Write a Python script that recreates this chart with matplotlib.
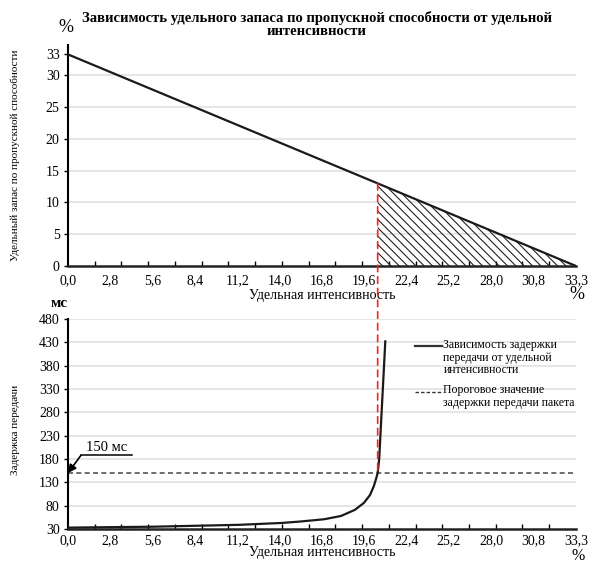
import numpy as np
import matplotlib
matplotlib.use("Agg")
import matplotlib.pyplot as plt
from matplotlib.patches import ConnectionPatch
from matplotlib.lines import Line2D

plt.rcParams["font.family"] = ["Liberation Serif", "DejaVu Serif"]
plt.rcParams["hatch.linewidth"] = 0.8

# Axis labels and ticks
x_max = 33.3
x_tick_labels = ["0,0", "2,8", "5,6", "8,4", "11,2", "14,0", "16,8",
                 "19,6", "22,4", "25,2", "28,0", "30,8", "33,3"]
reserve_ticks = [0, 5, 10, 15, 20, 25, 30, 33.3]
reserve_tick_labels = ["0", "5", "10", "15", "20", "25", "30", "33"]
delay_ticks = [30, 80, 130, 180, 230, 280, 330, 380, 430, 480]

# Specific throughput reserve vs specific intensity, %
reserve_x = [0.0, 33.3]
reserve_y = [33.3, 0.0]

# Intensity at which the delay reaches the threshold
cut_x = 20.3

# Transmission delay vs specific intensity, ms
delay_x = [0.0, 2.8, 5.6, 8.4, 11.2, 14.0, 15.2, 16.8, 17.9, 18.8, 19.4,
           19.8, 20.05, 20.2, 20.3, 20.4, 20.8]
delay_y = [33, 34, 35, 37, 39, 43, 46, 51, 58, 71, 86,
           103, 122, 138, 150, 180, 432]
threshold = 150

fig = plt.figure(figsize=(5.92, 5.64), dpi=100)
ax1 = fig.add_axes([0.1149, 0.5284, 0.858, 0.3920])
ax2 = fig.add_axes([0.1149, 0.0620, 0.858, 0.3724])

major_pos = np.linspace(0, x_max, len(x_tick_labels))
minor_pos = np.linspace(0, x_max, 20)


def style_axes(ax, yticks, ylabels, ylim, xpad):
    ax.set_xlim(0, x_max)
    ax.set_ylim(*ylim)
    for s in ("top", "right"):
        ax.spines[s].set_visible(False)
    ax.spines["left"].set_linewidth(1.5)
    ax.spines["bottom"].set_linewidth(1.8)
    ax.spines["bottom"].set_color("#222222")
    ax.set_xticks(major_pos)
    ax.set_xticklabels(x_tick_labels, fontsize=10)
    ax.set_xticks(minor_pos, minor=True)
    ax.tick_params(axis="x", which="major", length=0, pad=xpad)
    ax.tick_params(axis="x", which="minor", length=3.5, width=1, direction="in")
    ax.set_yticks(yticks)
    ax.set_yticklabels(ylabels, fontsize=10)
    ax.tick_params(axis="y", length=3, width=1, pad=3)
    for t in yticks[1:]:
        if t <= ylim[1] and t != 33.3:
            ax.axhline(t, color="#e4e4e4", lw=1.3, zorder=0)


# Top chart
style_axes(ax1, reserve_ticks, reserve_tick_labels, (0, 34.8), 6)
ax1.plot(reserve_x, reserve_y, color="#1a1a1a", lw=1.6, zorder=3)
fill_x = np.array([cut_x, x_max])
fill_y = np.interp(fill_x, reserve_x, reserve_y)
ax1.fill_between(fill_x, 0, fill_y, facecolor="none", edgecolor="#222222",
                 hatch="\\\\\\\\", linewidth=0, zorder=2)
ax1.set_title("Зависимость удельного запаса по пропускной способности от удельной\n"
              "интенсивности", fontsize=10.5, fontweight="bold", pad=7,
              x=0.49, linespacing=1.05)
ax1.set_ylabel("Удельный запас по пропускной способности", fontsize=8)
ax1.yaxis.set_label_coords(-0.095, 0.5)
ax1.set_xlabel("Удельная интенсивность", fontsize=10, labelpad=1)
fig.text(0.112, 0.952, "%", fontsize=13, ha="center", va="center")
fig.text(0.974, 0.478, "%", fontsize=13, ha="center", va="center")

# Bottom chart
style_axes(ax2, delay_ticks, [str(t) for t in delay_ticks], (30, 480), 4)
ax2.plot(delay_x, delay_y, color="#1a1a1a", lw=1.6, zorder=3)
ax2.axhline(threshold, color="#555555", lw=1.2, ls=(0, (3, 2)), zorder=2)
ax2.set_ylabel("Задержка передачи", fontsize=8)
ax2.yaxis.set_label_coords(-0.095, 0.47)
ax2.set_xlabel("Удельная интенсивность", fontsize=10, labelpad=-1)
fig.text(0.114, 0.462, "мс", fontsize=11, fontweight="bold",
         ha="right", va="center")
fig.text(0.976, 0.0, "%", fontsize=11.5, ha="center", va="bottom")

# "150 ms" callout
anchor = (0.85, 188)
ax2.annotate("", xy=(0.0, threshold), xytext=anchor,
             arrowprops=dict(arrowstyle="-|>", color="black", lw=1.2,
                             mutation_scale=12, shrinkA=0, shrinkB=0))
ax2.plot([anchor[0], 4.2], [anchor[1], anchor[1]], color="black", lw=1.1,
         clip_on=False)
ax2.text(2.55, anchor[1] + 2, "150 мс", fontsize=10.5, ha="center", va="bottom")

# Cut-off marker linking both charts
cut_reserve = float(np.interp(cut_x, reserve_x, reserve_y))
cut_delay = float(np.interp(cut_x, delay_x, delay_y))
con = ConnectionPatch(xyA=(cut_x, cut_reserve), coordsA=ax1.transData,
                      xyB=(cut_x, cut_delay), coordsB=ax2.transData,
                      color="#ff2020", lw=1.2, ls=(0, (4, 3)), zorder=5)
fig.add_artist(con)

# Legend, laid out by hand
lx0, lx1, tx = 0.701, 0.746, 0.749
fig.add_artist(Line2D([lx0, lx1], [0.3860, 0.3860], color="#333333", lw=1.6))
fig.text(tx, 0.3995, "Зависимость задержки\nпередачи от удельной\nинтенсивности",
         fontsize=8.5, ha="left", va="top", linespacing=1.1)
fig.add_artist(Line2D([lx0, lx1], [0.3055, 0.3055], color="#333333", lw=1.0,
                      ls=(0, (2.5, 1.5))))
fig.text(tx, 0.3190, "Пороговое значение\nзадержки передачи пакета",
         fontsize=8.5, ha="left", va="top", linespacing=1.1)

fig.savefig("out.png", dpi=100)
